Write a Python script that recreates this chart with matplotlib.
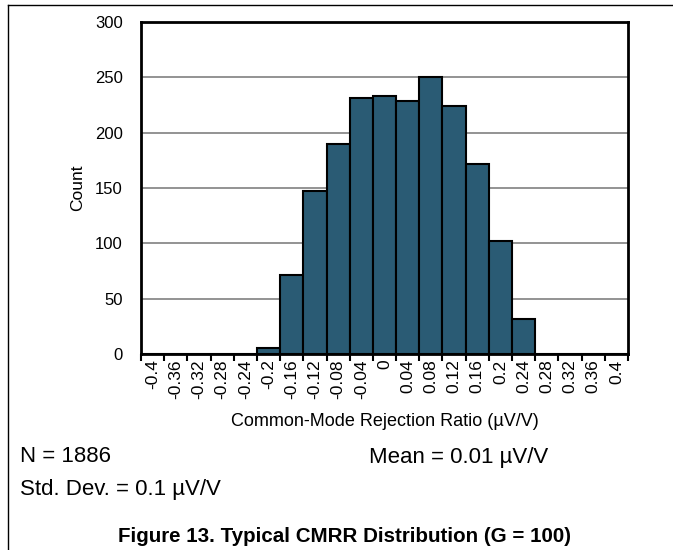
import numpy as np
import matplotlib
matplotlib.use("Agg")
import matplotlib.pyplot as plt
from matplotlib.lines import Line2D

plt.rcParams['font.family'] = ['Liberation Sans', 'DejaVu Sans']

# bin labels (uV/V) and counts
bins = ["-0.4", "-0.36", "-0.32", "-0.28", "-0.24", "-0.2", "-0.16", "-0.12",
        "-0.08", "-0.04", "0", "0.04", "0.08", "0.12", "0.16", "0.2", "0.24",
        "0.28", "0.32", "0.36", "0.4"]
counts = [0, 0, 0, 0, 0, 5, 71, 147, 190, 231, 233, 229, 250, 224, 172, 102,
          32, 0, 0, 0, 0]

fig = plt.figure(figsize=(6.73, 5.5), dpi=100)
ax = fig.add_axes([141/673, 1 - 354/550, (628 - 141)/673, (354 - 22)/550])

x = np.arange(len(bins))
ax.bar(x, counts, width=1.0, color="#2a5b74", edgecolor="black",
       linewidth=1.5, zorder=3)

ax.set_xlim(-0.5, len(bins) - 0.5)
ax.set_ylim(0, 300)
ax.set_yticks(np.arange(0, 301, 50))
ax.yaxis.grid(True, color="#808080", linewidth=1.2, zorder=0)
ax.tick_params(axis="y", length=0, pad=13, labelsize=12)

ax.set_xticks(x)
ax.set_xticklabels(bins, rotation=90, fontsize=12.5)
ax.set_xticks(np.arange(-0.5, len(bins)), minor=True)
ax.tick_params(axis="x", which="major", length=0, pad=4)
ax.tick_params(axis="x", which="minor", length=5, width=1.5, color="black")

for s in ax.spines.values():
    s.set_linewidth(2)
    s.set_zorder(4)

ax.set_ylabel("Count", fontsize=12.5, labelpad=7)
ax.set_xlabel("Common-Mode Rejection Ratio (µV/V)", fontsize=13, labelpad=10)

fig.text(20/673, 1 - 457/550, "N = 1886", fontsize=16, va="center")
fig.text(369/673, 1 - 457/550, "Mean = 0.01 µV/V", fontsize=16, va="center")
fig.text(20/673, 1 - 490/550, "Std. Dev. = 0.1 µV/V", fontsize=16, va="center")
fig.text(345/673, 1 - 536/550, "Figure 13. Typical CMRR Distribution (G = 100)",
         fontsize=14.8, fontweight="bold", ha="center", va="center")

# page frame lines
fig.add_artist(Line2D([8/673, 1], [1 - 5/550, 1 - 5/550], color="black",
                      linewidth=1, transform=fig.transFigure))
fig.add_artist(Line2D([8/673, 8/673], [0, 1 - 5/550], color="black",
                      linewidth=1, transform=fig.transFigure))

fig.savefig("out.png", dpi=100)
